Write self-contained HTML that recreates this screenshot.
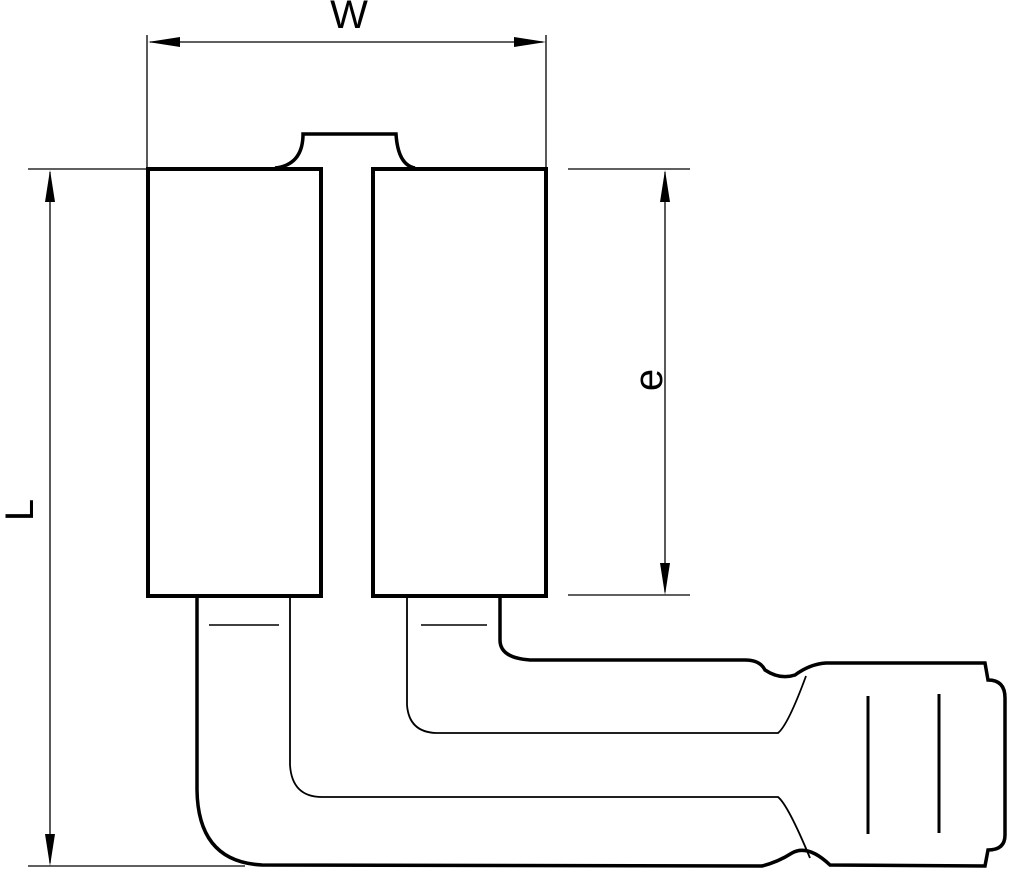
<!DOCTYPE html>
<html><head><style>body{margin:0;background:#fff}svg{display:block}</style></head><body>
<svg width="1012" height="871" viewBox="0 0 1012 871" xmlns="http://www.w3.org/2000/svg">
<g stroke="#000" fill="none">
<line x1="147" y1="35" x2="147" y2="168" stroke-width="1.3"/>
<line x1="546" y1="35" x2="546" y2="168" stroke-width="1.3"/>
<line x1="150" y1="42" x2="543" y2="42" stroke-width="1.3"/>
<line x1="28" y1="169" x2="147" y2="169" stroke-width="1.3"/>
<line x1="28" y1="866" x2="245" y2="866" stroke-width="1.3"/>
<line x1="50" y1="172" x2="50" y2="863" stroke-width="1.3"/>
<line x1="568" y1="169" x2="690" y2="169" stroke-width="1.3"/>
<line x1="568" y1="595" x2="690" y2="595" stroke-width="1.3"/>
<line x1="665" y1="172" x2="665" y2="592" stroke-width="1.3"/>
<rect x="148" y="169" width="173" height="427" stroke-width="4"/>
<rect x="373" y="169" width="173" height="427" stroke-width="4"/>
<path d="M275,168 Q302,165 303,136 L303,134 L396,134 Q398,165 415,168" stroke-width="3.5"/>
<line x1="209" y1="625" x2="279" y2="625" stroke-width="1.5"/>
<line x1="421" y1="625" x2="487" y2="625" stroke-width="1.5"/>
<path d="M197,598 L197,790 Q198,862 262,865 L762,866 Q778,862 792,853 Q808,844 830,865 L985,866 L988,850 Q1005,850 1005,835 L1005,698 Q1005,680 988,680 L985,663 L826,663 Q810,664 795,675 Q780,680 765,670 Q760,660 745,660 L530,660 Q500,658 500,640 L500,598" stroke-width="3.5"/>
<path d="M290,598 L290,765 Q292,797 322,797 L778,797 Q788,805 810,858" stroke-width="1.8"/>
<path d="M407,598 L407,705 Q409,732 436,733 L778,733 Q788,725 806,676" stroke-width="1.8"/>
<line x1="868" y1="696" x2="868" y2="834" stroke-width="3"/>
<line x1="939" y1="694" x2="939" y2="833" stroke-width="3"/>
</g>
<g fill="#000">
<path d="M148,42 L180,37 L180,47 Z"/>
<path d="M546,42 L514,37 L514,47 Z"/>
<path d="M50,170 L45,202 L55,202 Z"/>
<path d="M50,866 L45,834 L55,834 Z"/>
<path d="M665,170 L660,202 L670,202 Z"/>
<path d="M665,595 L660,563 L670,563 Z"/>
</g>
<g font-family="Liberation Sans, sans-serif" font-size="40" fill="#000">
<text x="349" y="28" text-anchor="middle">W</text>
<text transform="translate(33,510) rotate(-90)" text-anchor="middle">L</text>
<text transform="translate(662,380) rotate(-90)" text-anchor="middle">e</text>
</g>
</svg>
</body></html>
